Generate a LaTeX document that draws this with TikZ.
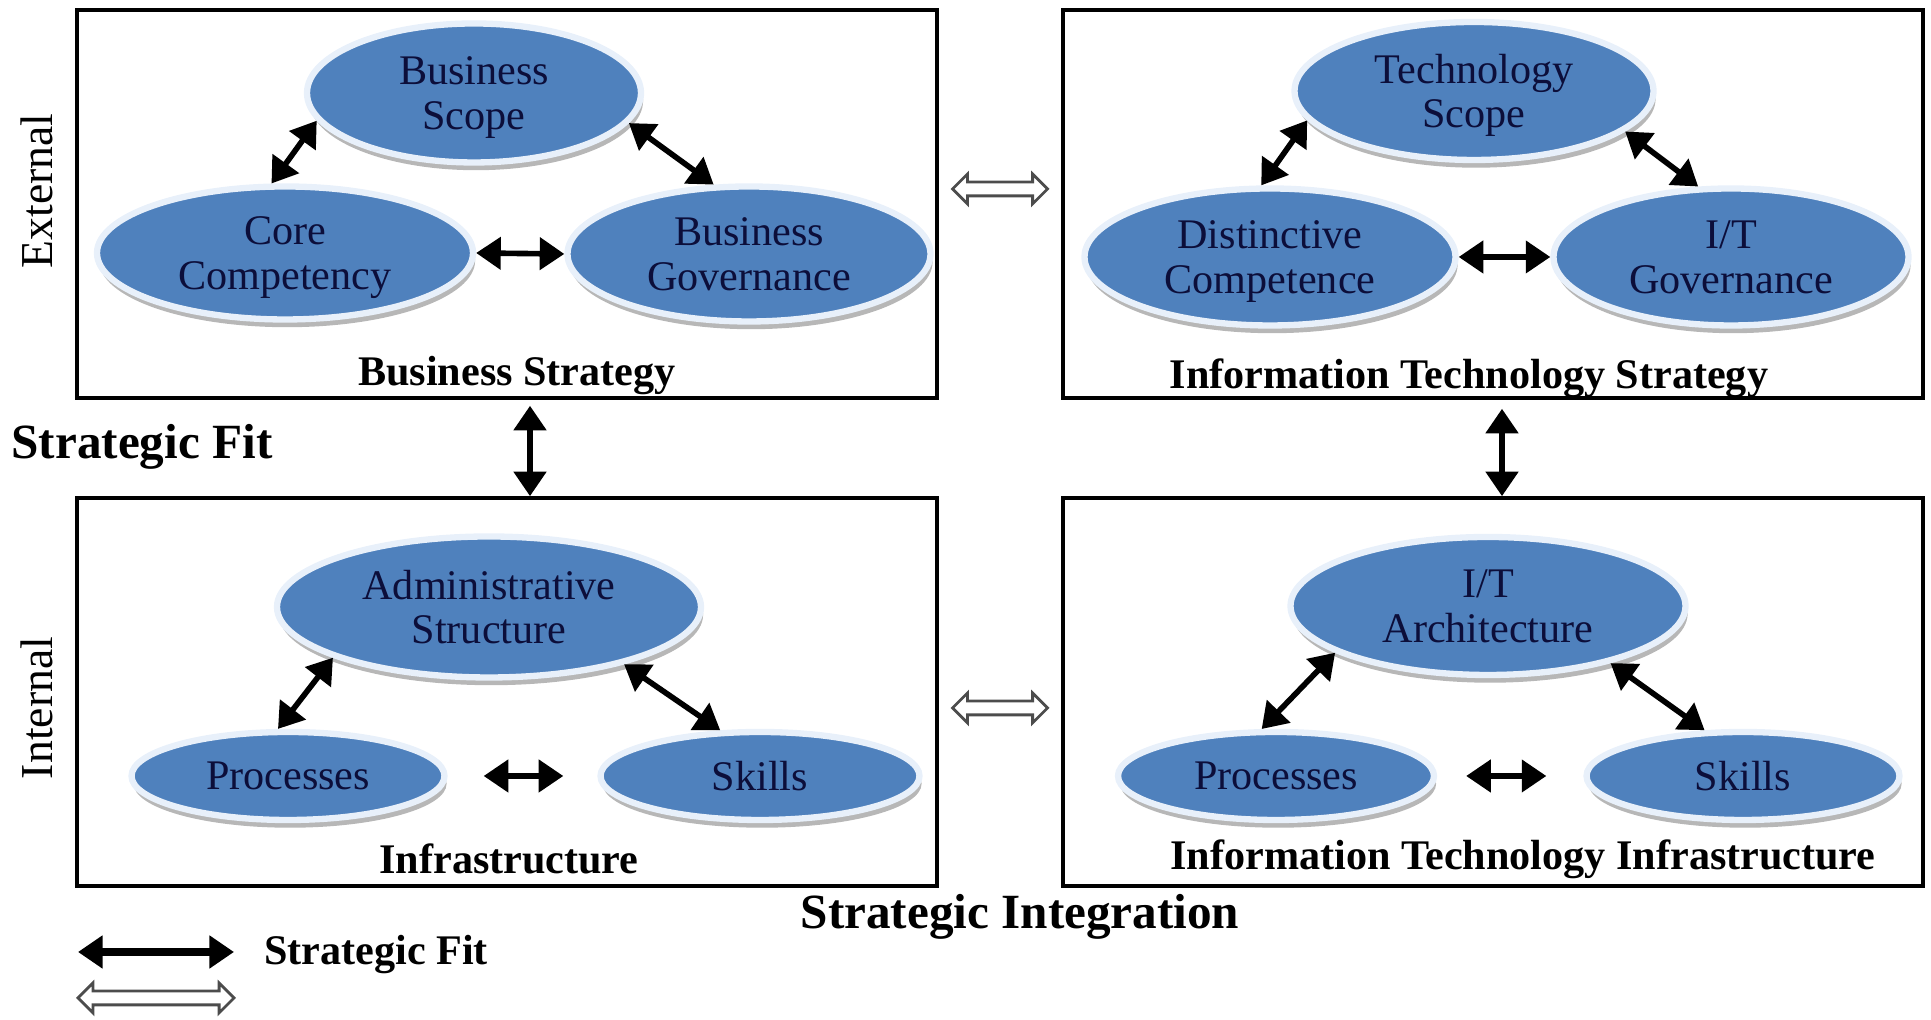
\documentclass[tikz,border=0pt]{standalone}
\usepackage{fontspec}
\setmainfont{Liberation Serif}
\usetikzlibrary{shapes.geometric, shapes.arrows, arrows.meta, positioning, calc, shadows}
\definecolor{ovalColor}{RGB}{79,129,189}
\definecolor{rimColor}{RGB}{232,240,250}
\definecolor{textColor}{RGB}{12,14,58}
\tikzstyle{oval} = [ellipse, inner sep=0pt, align=center, text=textColor, fill=ovalColor, draw=rimColor, line width=1.8pt, font=\fontsize{12}{12.6}\selectfont, drop shadow={shadow xshift=0.6pt, shadow yshift=-2.2pt, fill=black!40, opacity=0.7}]
\tikzstyle{twoline} = [text depth=-3pt]
\tikzstyle{bigbox} = [rectangle, draw=black, line width=1pt, minimum width=8.6cm, minimum height=3.88cm]
\tikzstyle{fitarrow} = [{Triangle[width=9pt,length=7pt]}-{Triangle[width=9pt,length=7pt]}, line width=1.6pt]
\tikzstyle{intarrow} = [double arrow, draw=black!70, fill=white, line width=0.8pt, inner xsep=0pt, inner ysep=0.055cm, double arrow head extend=0.08cm, minimum height=0.95cm]
\tikzstyle{boxlabel} = [font=\bfseries\fontsize{12}{14}\selectfont]

\begin{document}
\begin{tikzpicture}
\useasboundingbox (0,0) rectangle (19.31,10.20);
% the four domains
\node (bstrat) [bigbox] at (5.07,8.16) {};
\node (itstrat) [bigbox] at (14.93,8.16) {};
\node (infra) [bigbox] at (5.07,3.28) {};
\node (itinfra) [bigbox] at (14.93,3.28) {};

% business strategy
\node (bscope) [oval, twoline, minimum width=3.34cm, minimum height=1.39cm] at (4.74,9.27) {Business\\Scope};
\node (ccomp) [oval, twoline, minimum width=3.76cm, minimum height=1.33cm] at (2.85,7.67) {Core\\Competency};
\node (bgov) [oval, twoline, minimum width=3.63cm, minimum height=1.35cm] at (7.49,7.66) {Business\\Governance};
\node (bslabel) [boxlabel] at (5.17,6.44) {Business Strategy};

\draw[fitarrow] (ccomp.101) -- (bscope.190);
\draw[fitarrow] (bscope.-11) -- (bgov.117);
\draw[fitarrow] (ccomp.east) -- (bgov.west);

% I/T strategy
\node (tscope) [oval, twoline, minimum width=3.59cm, minimum height=1.38cm] at (14.74,9.29) {Technology\\Scope};
\node (dcomp) [oval, twoline, minimum width=3.71cm, minimum height=1.37cm] at (12.70,7.63) {Distinctive\\Competence};
\node (itgov) [oval, twoline, minimum width=3.55cm, minimum height=1.37cm] at (17.31,7.63) {I/T\\Governance};
\node (itslabel) [boxlabel] at (14.69,6.42) {Information Technology Strategy};

\draw[fitarrow] (dcomp.97) -- (tscope.190);
\draw[fitarrow] (tscope.-15) -- (itgov.115);
\draw[fitarrow] (dcomp.east) -- (itgov.west);

% organizational infrastructure
\node (astruct) [oval, twoline, minimum width=4.24cm, minimum height=1.41cm] at (4.89,4.13) {Administrative\\Structure};
\node (proc1) [oval, minimum width=3.13cm, minimum height=0.88cm] at (2.88,2.44) {Processes};
\node (skill1) [oval, minimum width=3.19cm, minimum height=0.88cm] at (7.60,2.44) {Skills};
\node (inlabel) [boxlabel] at (5.09,1.61) {Infrastructure};

\draw[fitarrow] (proc1.102) -- (astruct.198);
\draw[fitarrow] (astruct.-23) -- (skill1.131);
\draw[fitarrow, shorten <=0.36cm, shorten >=0.34cm] (proc1.east) -- (skill1.west);

% I/T infrastructure
\node (itarch) [oval, twoline, minimum width=3.95cm, minimum height=1.38cm] at (14.88,4.14) {I/T\\Architecture};
\node (proc2) [oval, minimum width=3.16cm, minimum height=0.88cm] at (12.76,2.44) {Processes};
\node (skill2) [oval, minimum width=3.13cm, minimum height=0.88cm] at (17.43,2.44) {Skills};
\node (itinlabel) [boxlabel] at (15.23,1.61) {Information Technology Infrastructure};

\draw[fitarrow] (proc2.107) -- (itarch.197);
\draw[fitarrow] (itarch.-25) -- (skill2.130);
\draw[fitarrow, shorten <=0.29cm, shorten >=0.37cm] (proc2.east) -- (skill2.west);

% links between the domains
\draw[fitarrow, line width=1.8pt] ($(bstrat.south)+(0.23,-0.06)$) -- ($(infra.north)+(0.23,0)$);
\draw[fitarrow, line width=1.8pt] ($(itstrat.south)+(0.09,-0.09)$) -- ($(itinfra.north)+(0.09,0)$);
\path ($(bstrat.east)+(0,0.15)$) -- ($(itstrat.west)+(0,0.15)$) node[intarrow, midway] (inttop) {};
\path ($(infra.east)+(0,-0.16)$) -- ($(itinfra.west)+(0,-0.16)$) node[intarrow, midway] (intbot) {};

% side texts
\node (external) [rotate=90, font=\fontsize{13}{15}\selectfont] at (0.37,8.29) {External};
\node (internal) [rotate=90, font=\fontsize{13}{15}\selectfont] at (0.37,3.12) {Internal};
\node (fitlabel) [font=\bfseries\fontsize{14}{16}\selectfont] at (1.42,5.73) {Strategic Fit};
\node (intlabel) [font=\bfseries\fontsize{14}{16}\selectfont] at (10.2,1.03) {Strategic Integration};

% legend
\coordinate (leg1a) at (0.78,0.68);
\coordinate (leg1b) at (2.34,0.68);
\draw[fitarrow, line width=2pt] (leg1a) -- (leg1b);
\node (legfit) [boxlabel] at (3.76,0.65) {Strategic Fit};
\coordinate (leg2a) at (0.78,0.22);
\coordinate (leg2b) at (2.34,0.22);
\path (leg2a) -- (leg2b) node[intarrow, midway, minimum height=1.56cm] (legint) {};
\end{tikzpicture}
\end{document}
